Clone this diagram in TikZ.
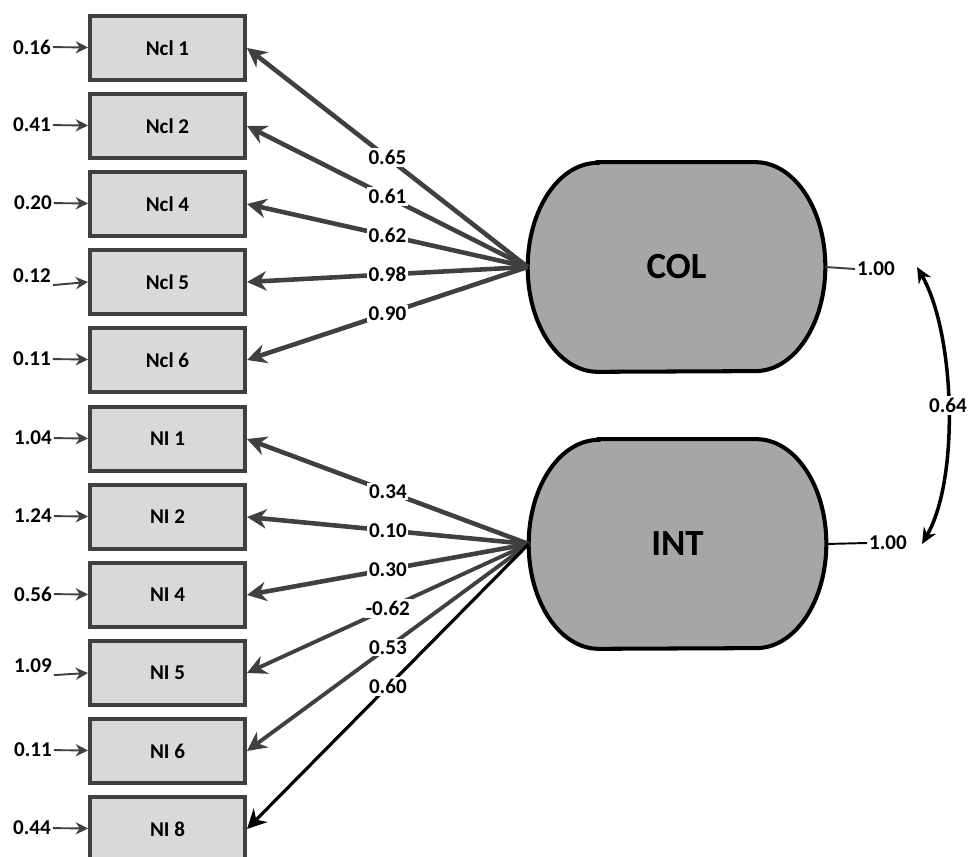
\documentclass[tikz,border=0pt]{standalone}
\usepackage{fontspec}
\setmainfont{Carlito}
\usetikzlibrary{arrows.meta,backgrounds}
\definecolor{linegray}{HTML}{404040}
\definecolor{boxfill}{HTML}{D9D9D9}
\definecolor{latentfill}{HTML}{A6A6A6}
\tikzset{
    indicator/.style={draw=linegray, line width=2.3pt, fill=boxfill, minimum width=3.1cm, minimum height=1.28cm, inner sep=0pt, font=\fontsize{12}{14}\selectfont\bfseries},
    latent/.style={minimum width=5.94cm, minimum height=4.18cm, inner sep=0pt, font=\fontsize{21}{24}\selectfont\bfseries},
    errlabel/.style={inner sep=1pt, font=\fontsize{12}{14}\selectfont\bfseries},
    errarrow/.style={draw=linegray, line width=1.1pt, -{Stealth[length=7pt,width=7pt]}},
    loading/.style={draw=linegray, line width=2.6pt, -{Stealth[length=11pt,width=11pt]}},
    loadlabel/.style={fill=white, inner sep=1pt, font=\fontsize{12}{14}\selectfont\bfseries},
    covar/.style={draw=black, line width=2pt, {Stealth[length=9pt,width=8pt]}-{Stealth[length=9pt,width=8pt]}}
}

\begin{document}
\begin{tikzpicture}[x=0.02cm, y=-0.02cm]
    \useasboundingbox (0,0) rectangle (973,857);

    \node[indicator] (ncl1) at (167.5, 48) {Ncl 1};
    \node[indicator] (ncl2) at (167.5, 126) {Ncl 2};
    \node[indicator] (ncl4) at (167.5, 204) {Ncl 4};
    \node[indicator] (ncl5) at (167.5, 282) {Ncl 5};
    \node[indicator] (ncl6) at (167.5, 360) {Ncl 6};
    \node[indicator] (ni1) at (167.5, 439) {NI 1};
    \node[indicator] (ni2) at (167.5, 517) {NI 2};
    \node[indicator] (ni4) at (167.5, 595) {NI 4};
    \node[indicator] (ni5) at (167.5, 673) {NI 5};
    \node[indicator] (ni6) at (167.5, 751) {NI 6};
    \node[indicator] (ni8) at (167.5, 829) {NI 8};

    \node[errlabel] (e1) at (32, 47) {0.16};
    \node[errlabel] (e2) at (32, 125) {0.41};
    \node[errlabel] (e4) at (33, 203) {0.20};
    \node[errlabel] (e5) at (32, 276) {0.12};
    \node[errlabel] (e6) at (32, 359) {0.11};
    \node[errlabel] (e7) at (33, 438) {1.04};
    \node[errlabel] (e8) at (33, 516) {1.24};
    \node[errlabel] (e9) at (33, 594) {0.56};
    \node[errlabel] (e10) at (33, 666) {1.09};
    \node[errlabel] (e11) at (33, 750) {0.11};
    \node[errlabel] (e12) at (32, 828) {0.44};

    \draw[errarrow] (e1) -- (ncl1);
    \draw[errarrow] (e2) -- (ncl2);
    \draw[errarrow] (e4) -- (ncl4);
    \draw[errarrow] (e5.south east) -- (ncl5.west);
    \draw[errarrow] (e6) -- (ncl6);
    \draw[errarrow] (e7) -- (ni1);
    \draw[errarrow] (e8) -- (ni2);
    \draw[errarrow] (e9) -- (ni4);
    \draw[errarrow] (e10.south east) -- (ni5.west);
    \draw[errarrow] (e11) -- (ni6);
    \draw[errarrow] (e12) -- (ni8);

    \node[latent] (col) at (676.5, 267) {COL};
    \node[latent] (int) at (677.5, 544) {INT};

    \begin{scope}[on background layer]
        \foreach \lv in {col, int}
            \draw[black, line width=2.3pt, fill=latentfill]
                ([xshift=1.4cm]\lv.north west) -- ([xshift=-1.4cm]\lv.north east)
                arc[start angle=90, end angle=-90, x radius=1.4cm, y radius=2.09cm]
                -- ([xshift=1.4cm]\lv.south west)
                arc[start angle=270, end angle=90, x radius=1.4cm, y radius=2.09cm]
                -- cycle;
    \end{scope}

    \draw[loading] (col.west) -- node[loadlabel] {0.65} (ncl1.east);
    \draw[loading] (col.west) -- node[loadlabel] {0.61} (ncl2.east);
    \draw[loading] (col.west) -- node[loadlabel] {0.62} (ncl4.east);
    \draw[loading] (col.west) -- node[loadlabel] {0.98} (ncl5.east);
    \draw[loading] (col.west) -- node[loadlabel] {0.90} (ncl6.east);

    \draw[loading] (int.west) -- node[loadlabel] {0.34} (ni1.east);
    \draw[loading] (int.west) -- node[loadlabel] {0.10} (ni2.east);
    \draw[loading] (int.west) -- node[loadlabel] {0.30} (ni4.east);
    \draw[loading, line width=2.2pt] (int.west) -- node[loadlabel] {-0.62} (ni5.east);
    \draw[loading, line width=2.2pt] (int.west) -- node[loadlabel] {0.53} (ni6.east);
    \draw[loading, draw=black, line width=1.8pt] (int.west) -- node[loadlabel] {0.60} (ni8.east);

    \node[errlabel] (colvar) at (876, 269) {1.00};
    \node[errlabel] (intvar) at (888, 543) {1.00};
    \draw[linegray, line width=1.1pt] (col.east) -- (colvar.west);
    \draw[black, line width=1.1pt] (int.east) -- (intvar.west);

    \coordinate (ctop) at (917, 267);
    \coordinate (cbot) at (922, 544);
    \draw[covar] (ctop) to[out=-60, in=60, looseness=0.7] node[loadlabel, pos=0.5] {0.64} (cbot);
\end{tikzpicture}
\end{document}
